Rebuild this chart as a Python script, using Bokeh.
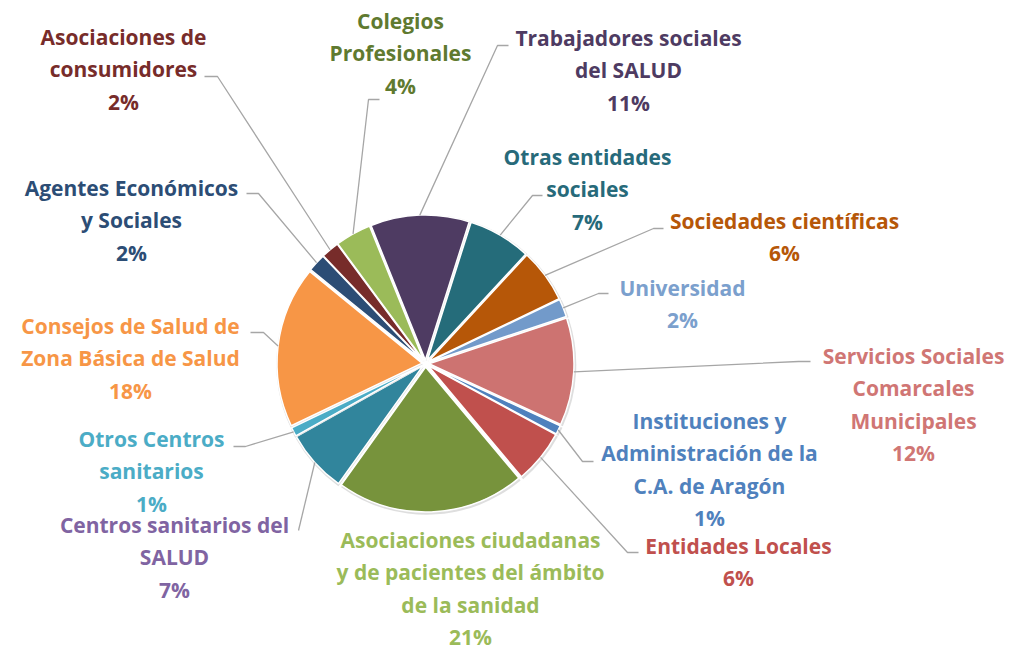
import math
from bokeh.plotting import figure
from bokeh.models import Range1d
from bokeh.core.properties import value
from bokeh.embed import file_html
from bokeh.resources import INLINE

# ---- data ----
categories = ["Trabajadores sociales del SALUD", "Otras entidades sociales", "Sociedades científicas",
              "Universidad", "Servicios Sociales Comarcales Municipales",
              "Instituciones y Administración de la C.A. de Aragón", "Entidades Locales",
              "Asociaciones ciudadanas y de pacientes del ámbito de la sanidad",
              "Centros sanitarios del SALUD", "Otros Centros sanitarios",
              "Consejos de Salud de Zona Básica de Salud", "Agentes Económicos y Sociales",
              "Asociaciones de consumidores", "Colegios Profesionales"]
values = [11, 7, 6, 2, 12, 1, 6, 21, 7, 1, 18, 2, 2, 4]
label_lines = [["Trabajadores sociales", "del SALUD"], ["Otras entidades", "sociales"],
               ["Sociedades científicas"], ["Universidad"],
               ["Servicios Sociales", "Comarcales", "Municipales"],
               ["Instituciones y", "Administración de la", "C.A. de Aragón"],
               ["Entidades Locales"],
               ["Asociaciones ciudadanas", "y de pacientes del ámbito", "de la sanidad"],
               ["Centros sanitarios del", "SALUD"], ["Otros Centros", "sanitarios"],
               ["Consejos de Salud de", "Zona Básica de Salud"], ["Agentes Económicos", "y Sociales"],
               ["Asociaciones de", "consumidores"], ["Colegios", "Profesionales"]]

# ---- styles / layout ----
slice_colors = ["#4E3B62", "#256C7A", "#B65708", "#729ACA", "#CD7371", "#4F81BD", "#C0504D",
                "#77933C", "#31859C", "#4BACC6", "#F79646", "#2C4D75", "#772C2A", "#9BBB59"]
label_colors = ["#4E3B62", "#276A7A", "#B65708", "#7BA0CD", "#D07674", "#4F81BD", "#C0504D",
                "#9BBB59", "#8064A2", "#4BACC6", "#F79646", "#2C4D75", "#772C2A", "#5F7A30"]
label_pos = [(628, 37), (587, 156), (784, 220), (682, 287), (913, 355), (709, 420), (738, 545),
             (470, 539), (174, 524), (151, 438), (130, 325), (131, 187), (123, 36), (400, 20)]
leader = [[(497, 45), (508, 45)], [(532, 195), (542, 195)], [(653, 228), (663, 228)],
          [(598, 293), (608, 293)], [(798, 361), (810, 361)], [(582, 461), (593, 461)],
          [(627, 552), (638, 552)], None, [(298, 530)], [(245, 446), (233, 446)],
          [(263, 332), (250, 332)], [(258, 193), (246, 193)], [(217, 76), (204, 76)],
          [(368, 99), (379, 99)]]

W, H = 1013, 651
CX, CY, R = 425, 363, 145
START = 338.0  # clockwise degrees from 12 o'clock
EXPL = 3.5
LINE_H = 32.6
FONT = "Open Sans"
FSIZE = "21px"

def Y(yimg):
    return H - yimg

p = figure(width=W, height=H, output_backend="svg", toolbar_location=None,
           x_range=Range1d(0, W), y_range=Range1d(0, H), min_border=0)
p.axis.visible = False
p.grid.visible = False
p.outline_line_color = None
p.background_fill_color = "white"
p.border_fill_color = "white"

total = sum(values)
cum = START
for i, v in enumerate(values):
    a1 = cum
    a2 = cum + 360.0 * v / total
    cum = a2
    mid = math.radians((a1 + a2) / 2)
    ox = EXPL * math.sin(mid)
    oy = EXPL * math.cos(mid)
    sa = math.radians(90 - a2)
    ea = math.radians(90 - a1)
    # soft shadow
    p.wedge(x=CX + ox + 0.8, y=Y(CY) + oy - 1.2, radius=R + 1.5, start_angle=sa, end_angle=ea,
            fill_color="#D6D6D6", line_color=None, fill_alpha=0.8)
    p.wedge(x=CX + ox, y=Y(CY) + oy, radius=R, start_angle=sa, end_angle=ea,
            fill_color=slice_colors[i], line_color="white", line_width=1.5)
    # leader line
    if leader[i] is not None:
        sx = CX + (R + EXPL) * math.sin(mid)
        sy = CY - (R + EXPL) * math.cos(mid)
        pts = [(sx, sy)] + leader[i]
        p.line([q[0] for q in pts], [Y(q[1]) for q in pts], line_color="#A6A6A6", line_width=1.3)
    # label
    lx, ly = label_pos[i]
    lines = label_lines[i] + [f"{v}%"]
    p.text(x=[lx] * len(lines), y=[Y(ly + k * LINE_H) for k in range(len(lines))], text=lines,
           text_align="center", text_baseline="middle", text_font=value(FONT),
           text_font_size=FSIZE, text_font_style="bold", text_color=label_colors[i])

open("out.html", "w").write(file_html(p, INLINE))
